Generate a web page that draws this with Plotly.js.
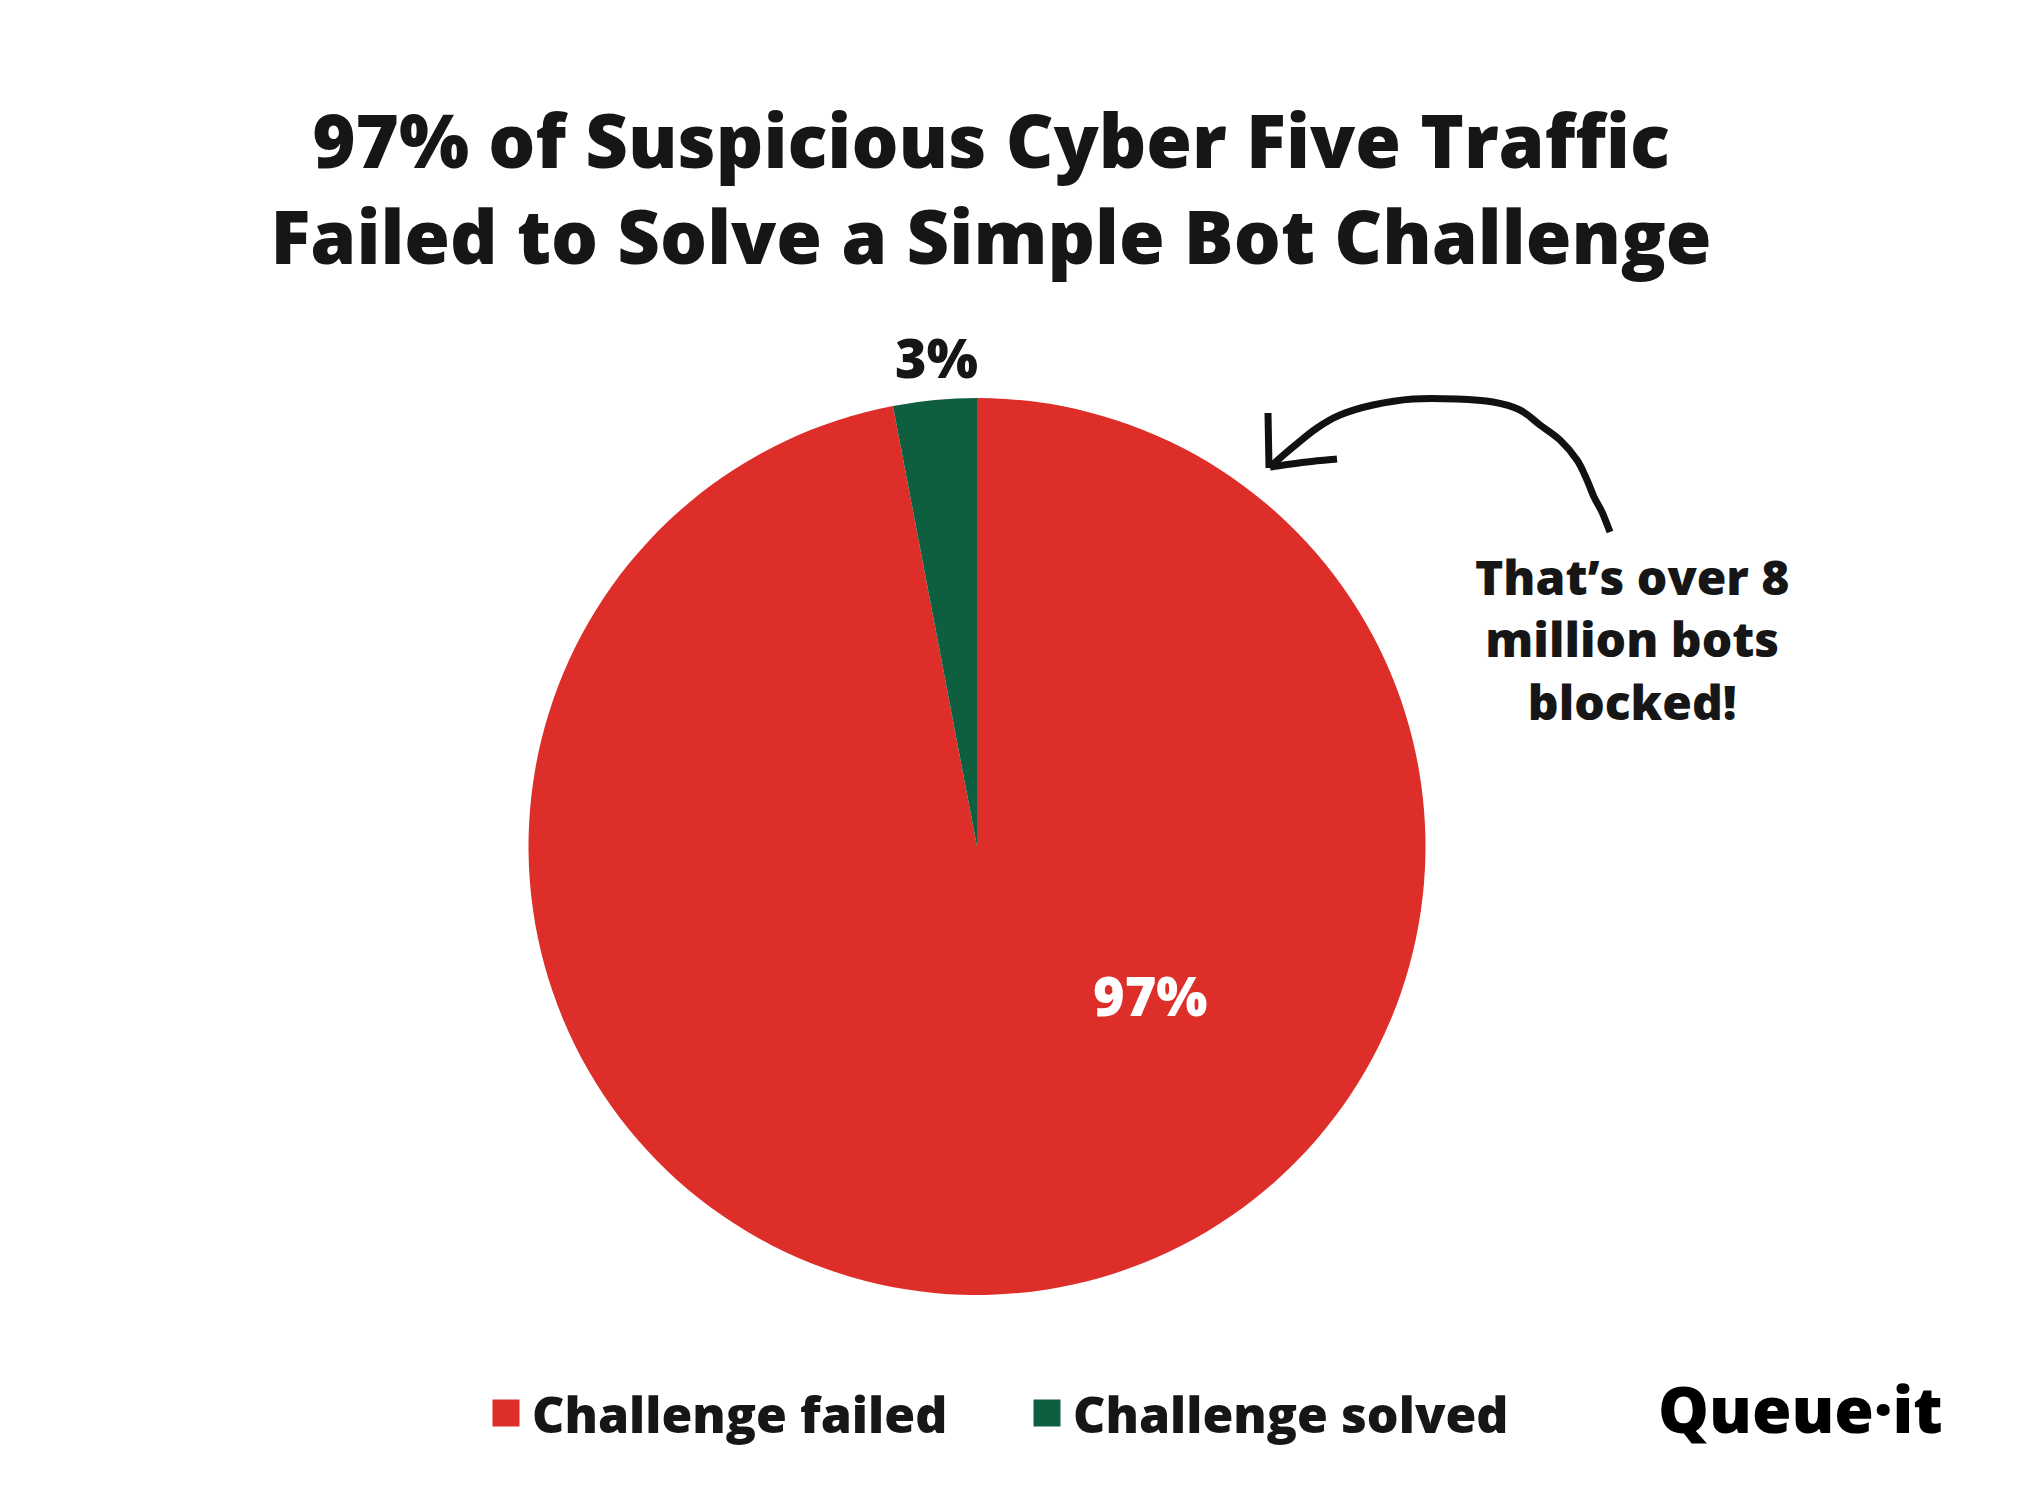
<!DOCTYPE html>
<html>
<head>
<meta charset="utf-8">
<script src="https://cdn.plot.ly/plotly-3.0.1.min.js"></script>
<style>html,body{margin:0;padding:0;background:#fff;}#chart{width:2038px;height:1485px;}</style>
</head>
<body>
<div id="chart"></div>
<script>
const categories = ['Challenge failed', 'Challenge solved'];
const shares = [97, 3];
const sliceColors = ['#DD2E29', '#0D5F3F'];
const chartTitle = '97% of Suspicious Cyber Five Traffic<br>Failed to Solve a Simple Bot Challenge';
const calloutText = 'That\u2019s over 8<br>million bots<br>blocked!';
const brandText = 'Queue\u00b7it';

const W = 2038, H = 1485;
const px = x => x / W;
const py = y => 1 - y / H;
const FONT = '"Open Sans", Lato, sans-serif';
const INK = '#161616';

const total = shares.reduce((a, b) => a + b, 0);
const pct = shares.map(v => Math.round(v / total * 100) + '%');

// hand-drawn arrow (decoration only), pixel points
const curvePts = [[1272,465],[1293,447],[1317,428],[1340,415],[1373,405],[1413,399],[1457,399],[1493,402],[1520,410],[1540,425],[1560,440],[1577,460],[1587,480],[1594,497],[1602,512],[1610,532]];
const stemPts = [[1268,413],[1269,468]];
const barbPts = [[1270,467],[1307,462],[1337,459]];
function smoothPath(pts) {
  const P = pts.map(p => [px(p[0]), py(p[1])]);
  let d = 'M' + P[0][0] + ',' + P[0][1];
  for (let i = 0; i < P.length - 1; i++) {
    const p0 = P[Math.max(i - 1, 0)], p1 = P[i], p2 = P[i + 1], p3 = P[Math.min(i + 2, P.length - 1)];
    const c1 = [p1[0] + (p2[0] - p0[0]) / 6, p1[1] + (p2[1] - p0[1]) / 6];
    const c2 = [p2[0] - (p3[0] - p1[0]) / 6, p2[1] - (p3[1] - p1[1]) / 6];
    d += ' C' + c1[0] + ',' + c1[1] + ' ' + c2[0] + ',' + c2[1] + ' ' + p2[0] + ',' + p2[1];
  }
  return d;
}

const trace = {
  type: 'pie',
  labels: categories,
  values: shares,
  marker: { colors: sliceColors, line: { width: 0 } },
  sort: false,
  direction: 'clockwise',
  rotation: 0,
  textinfo: 'none',
  hoverinfo: 'skip',
  domain: { x: [px(528), px(1426)], y: [py(1295), py(398)] },
  showlegend: true
};

const arrowLine = { color: '#111', width: 7 };
const layout = {
  width: W, height: H,
  margin: { l: 0, r: 0, t: 0, b: 0 },
  paper_bgcolor: '#ffffff',
  font: { family: FONT, color: INK },
  title: {
    text: chartTitle,
    font: { family: FONT, size: 74, color: INK, weight: 800 },
    x: px(991), xanchor: 'center',
    y: py(168), yanchor: 'top'
  },
  legend: {
    orientation: 'h',
    x: px(492), xanchor: 'left',
    y: py(1413), yanchor: 'middle',
    entrywidth: 496, entrywidthmode: 'pixels',
    font: { family: FONT, size: 50, color: INK, weight: 800 },
    itemclick: false, itemdoubleclick: false,
    traceorder: 'normal'
  },
  shapes: [
    { type: 'path', xref: 'paper', yref: 'paper', path: smoothPath(curvePts), line: arrowLine },
    { type: 'path', xref: 'paper', yref: 'paper', path: smoothPath(stemPts), line: arrowLine },
    { type: 'path', xref: 'paper', yref: 'paper', path: smoothPath(barbPts), line: arrowLine }
  ],
  annotations: [
    { text: pct[0], xref: 'paper', yref: 'paper', x: px(1150), y: py(995), xanchor: 'center', yanchor: 'middle', showarrow: false,
      font: { family: FONT, size: 54, color: '#ffffff', weight: 800 } },
    { text: pct[1], xref: 'paper', yref: 'paper', x: px(936), y: py(357), xanchor: 'center', yanchor: 'middle', showarrow: false,
      font: { family: FONT, size: 54, color: INK, weight: 800 } },
    { text: calloutText, xref: 'paper', yref: 'paper', x: px(1632), y: py(639), xanchor: 'center', yanchor: 'middle', showarrow: false,
      align: 'center', font: { family: FONT, size: 48, color: INK, weight: 800 } },
    { text: brandText, xref: 'paper', yref: 'paper', x: px(1800), y: py(1408), xanchor: 'center', yanchor: 'middle', showarrow: false,
      font: { family: FONT, size: 64, color: '#000', weight: 800 } }
  ]
};

Plotly.newPlot('chart', [trace], layout, { displayModeBar: false, staticPlot: true }).then(gd => {
  // enlarge the legend swatches to match the square keys of the original
  gd.querySelectorAll('.legend .legendpoints path').forEach(el => {
    const t = el.getAttribute('transform') || '';
    el.setAttribute('transform', t + ' translate(-6,0) scale(2.25)');
  });
});
</script>
</body>
</html>
